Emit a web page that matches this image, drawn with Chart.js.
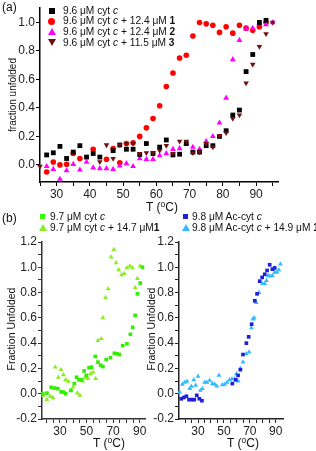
<!DOCTYPE html>
<html>
<head>
<meta charset="utf-8">
<script src="https://cdn.jsdelivr.net/npm/chart.js@4"></script>
<style>
  body { margin: 0; background: #fff; }
  #page { position: relative; width: 316px; height: 451px; overflow: hidden; }
  canvas { position: absolute; left: 0; top: 0; }
  .t { position: absolute; white-space: nowrap; font-family: 'Liberation Sans', Arial, sans-serif; color: #111; line-height: 12px; }
  .lg { font-size: 10.2px; }
  .mk { position: absolute; }
  .sq { width: 6px; height: 6px; }
  .ci { width: 7px; height: 7px; border-radius: 50%; }
  .up { width: 0; height: 0; border-left: 4px solid transparent; border-right: 4px solid transparent; border-bottom: 7px solid; }
  .dn { width: 0; height: 0; border-left: 4px solid transparent; border-right: 4px solid transparent; border-top: 7px solid; }
  .rot { transform: translate(-50%, -50%) rotate(-90deg); }
  .ctr { transform: translate(-50%, -50%); }
  sup { font-size: 0.7em; vertical-align: 0.5em; line-height: 0; }
</style>
</head>
<body>
<div id="page">
  <canvas id="chartA" width="316" height="451"></canvas>
  <canvas id="chartB1" width="316" height="451"></canvas>
  <canvas id="chartB2" width="316" height="451"></canvas>

  <!-- panel (a) texts -->
  <div class="t" style="left:2px;top:1px;font-size:12px">(a)</div>
  <div class="mk sq" style="left:49px;top:8px;background:#000"></div>
  <div class="t lg" style="left:63px;top:5px">9.6 μM cyt <i>c</i></div>
  <div class="mk ci" style="left:48px;top:18px;background:#ff0000"></div>
  <div class="t lg" style="left:63px;top:15px">9.6 μM cyt <i>c</i> + 12.4 μM <b>1</b></div>
  <div class="mk up" style="left:48px;top:28px;border-bottom-color:#ff00ff"></div>
  <div class="t lg" style="left:63px;top:26px">9.6 μM cyt <i>c</i> + 12.4 μM <b>2</b></div>
  <div class="mk dn" style="left:48px;top:39px;border-top-color:#701010"></div>
  <div class="t lg" style="left:63px;top:37px">9.6 μM cyt <i>c</i> + 11.5 μM <b>3</b></div>
  <div class="t rot" style="left:13px;top:95px;font-size:10px">fraction unfolded</div>
  <div class="t ctr" style="left:162px;top:207px;font-size:12px">T (<sup>o</sup>C)</div>

  <!-- panel (b) texts -->
  <div class="t" style="left:2px;top:212px;font-size:12px">(b)</div>
  <div class="mk sq" style="left:40px;top:214px;width:5px;height:5px;background:#33ff00"></div>
  <div class="t lg" style="left:50px;top:211px">9.7 μM cyt <i>c</i></div>
  <div class="mk up" style="left:39px;top:224px;border-bottom-color:#88ee22"></div>
  <div class="t lg" style="left:50px;top:222px">9.7 μM cyt <i>c</i> + 14.7 μM<b>1</b></div>
  <div class="mk sq" style="left:183px;top:214px;width:5px;height:5px;background:#1f1fdd"></div>
  <div class="t lg" style="left:192px;top:211px">9.8 μM Ac-cyt <i>c</i></div>
  <div class="mk up" style="left:182px;top:224px;border-bottom-color:#33bbff"></div>
  <div class="t lg" style="left:192px;top:222px">9.8 μM Ac-cyt <i>c</i> + 14.9 μM <b>1</b></div>
  <div class="t rot" style="left:11px;top:329px;font-size:10.5px">Fraction Unfolded</div>
  <div class="t rot" style="left:151px;top:329px;font-size:10.5px">Fraction Unfolded</div>
  <div class="t ctr" style="left:109px;top:443px;font-size:12px">T (<sup>o</sup>C)</div>
  <div class="t ctr" style="left:243px;top:443px;font-size:12px">T (<sup>o</sup>C)</div>
</div>

<script>
  // panel (a): 9.6 uM cyt c alone and with compounds 1, 2, 3
  const aTempCyt = [27, 29, 31, 33, 35, 37, 39, 41, 43, 47, 49, 51, 53, 55, 57, 59, 61, 63, 65, 67, 69, 71, 73, 75, 77, 79, 81, 83, 85, 87, 89, 91, 93];
  const aCyt = [0.07, 0.085, 0.13, 0.045, 0.09, 0.135, 0.055, 0.08, 0.055, 0.1, 0.14, 0.11, 0.11, 0.073, 0.15, 0.08, 0.125, 0.175, 0.07, 0.075, 0.15, 0.09, 0.09, 0.135, 0.135, 0.2, 0.24, 0.35, 0.385, 0.655, 0.775, 1.0, 1.015];

  const aTemp1 = [27, 29, 31, 33, 35, 37, 41, 45, 47, 49, 51, 53, 55, 57, 59, 61, 63, 65, 67, 69, 71, 73, 75, 77, 79, 81, 83, 85, 87, 89, 91, 93];
  const aCyt1 = [-0.05, 0.02, 0.0, 0.005, 0.08, 0.045, 0.11, 0.04, 0.115, 0.015, 0.15, 0.155, 0.2, 0.26, 0.325, 0.415, 0.55, 0.645, 0.75, 0.77, 0.905, 1.0, 0.99, 0.98, 0.93, 0.97, 0.925, 0.98, 0.96, 0.945, 0.97, 1.0];

  const aTemp2 = [27, 29, 31, 33, 35, 37, 39, 41, 43, 45, 47, 49, 51, 53, 55, 57, 59, 61, 63, 65, 67, 69, 71, 73, 75, 77, 79, 81, 83, 85, 87, 89, 91, 93, 95];
  const aCyt2 = [-0.01, -0.03, -0.1, -0.04, 0.005, -0.035, 0.02, -0.02, -0.025, -0.025, -0.03, -0.007, 0.01, -0.01, 0.045, 0.04, 0.04, 0.065, 0.08, 0.11, 0.115, 0.15, 0.125, 0.11, 0.165, 0.2, 0.295, 0.47, 0.74, 0.875, 0.955, 0.96, 0.995, 0.985, 1.0];

  const aTemp3 = [25, 43, 45, 47, 49, 51, 53, 55, 57, 59, 61, 63, 65, 67, 69, 71, 73, 75, 77, 79, 81, 83, 85, 87, 89, 91, 93, 95];
  const aCyt3 = [-0.01, 0.022, 0.14, 0.045, 0.14, 0.15, 0.15, 0.08, 0.085, 0.085, 0.1, 0.135, 0.08, 0.165, 0.165, 0.085, 0.09, 0.15, 0.125, 0.205, 0.225, 0.325, 0.35, 0.575, 0.705, 0.83, 0.92, 1.0];

  const aXTicks = [25, 30, 35, 40, 45, 50, 55, 60, 65, 70, 75, 80, 85, 90, 95];
  const aXLabels = [30, 40, 50, 60, 70, 80, 90];
  const aYTicks = [0, 0.2, 0.4, 0.6, 0.8, 1.0];
  const aYLabels = [0, 0.2, 0.4, 0.6, 0.8, 1.0];

  // panel (b) left: 9.7 uM cyt c, with and without 14.7 uM 1
  const bTempCyt = [17, 20.2, 23.4, 25.9, 28.4, 30.9, 32.6, 34.3, 38.3, 40.8, 42.5, 44.3, 46.2, 48.2, 49.9, 51.9, 53.7, 56.6, 58.6, 60.6, 62.3, 64.8, 68, 71, 73, 74.7, 77.2, 80.4, 83, 84.7, 86.6, 88.3, 90.4, 92.1];
  const bCyt = [0, 0.005, 0.05, 0.045, 0.04, 0.015, 0.013, 0, 0.026, 0.08, 0.13, 0.11, 0.11, 0.18, 0.145, 0.205, 0.21, 0.295, 0.25, 0.225, 0.215, 0.27, 0.285, 0.32, 0.315, 0.31, 0.38, 0.395, 0.47, 0.525, 0.62, 0.79, 0.875, 1.0];
  const bTempCyt1 = [17.7, 20.2, 22.7, 24.7, 26.4, 28.8, 30.8, 32.6, 34.3, 36.3, 38.1, 40, 43, 45, 47, 49, 51, 53, 55, 56.9, 58.6, 61.1, 62.3, 64.3, 66.3, 68.5, 70.5, 72.3, 74.2, 76.4, 78.4, 80.4, 82.6, 84.6, 86.6, 88.3, 90.3];
  const bCyt1 = [-0.013, -0.047, -0.02, -0.03, 0.21, 0.13, 0.19, 0.15, 0.11, 0.097, 0.026, 0.052, 0.005, -0.013, 0.1, 0.13, 0.12, 0.16, 0.17, 0.12, 0.42, 0.435, 0.6, 0.76, 0.83, 1.08, 1.14, 1.035, 0.98, 0.94, 0.95, 0.995, 1.01, 0.995, 0.84, 0.91, 1.01];

  // panel (b) right: 9.8 uM Ac-cyt c, with and without 14.9 uM 1
  const bTempAc = [17, 19, 21, 23, 25, 27, 29, 31, 33, 56.5, 59.1, 60.9, 62.7, 64.7, 67.3, 69.1, 71.4, 73.8, 75.6, 77.6, 79.5, 81.5, 83.3, 85.3, 87.4, 89.2];
  const bAc = [-0.04, -0.03, -0.02, -0.047, -0.047, -0.047, -0.013, -0.04, -0.055, 0.08, 0.11, 0.145, 0.19, 0.31, 0.4, 0.45, 0.55, 0.735, 0.79, 0.89, 0.92, 0.945, 0.975, 1.02, 0.985, 0.995];
  const bTempAc1 = [15.8, 17.9, 19.7, 21.5, 23.6, 24.9, 26.7, 28.2, 30, 31.8, 33.4, 35.1, 36.9, 39, 41.1, 42.9, 44.5, 46.2, 48.8, 50.6, 52.4, 54.4, 56.2, 58.3, 59.6, 60.9, 62.7, 64.7, 67.3, 69.4, 71.2, 72.4, 73.3, 75, 77.1, 79.7, 81.5, 82.8, 84.1, 85.5, 87.4, 89.2, 91, 92.4, 93.6];
  const bAc1 = [0.013, 0.074, 0.09, 0.097, 0.04, 0.058, 0.11, 0.066, 0.137, 0.026, 0.04, 0.09, 0.09, 0.105, 0.08, 0.074, 0.06, 0.145, 0.071, 0.074, 0.09, 0.11, 0.118, 0.118, 0.158, 0.1, 0.2, 0.25, 0.315, 0.33, 0.52, 0.59, 0.6, 0.72, 0.8, 0.87, 0.87, 0.895, 0.935, 0.93, 0.935, 0.96, 0.96, 0.98, 1.025];

  const bXTicks = [20, 25, 30, 35, 40, 45, 50, 55, 60, 65, 70, 75, 80, 85, 90];
  const bXLabels = [30, 50, 70, 90];
  const bYTicks = [-0.2, -0.1, 0, 0.1, 0.2, 0.3, 0.4, 0.5, 0.6, 0.7, 0.8, 0.9, 1.0, 1.1, 1.2];
  const bYLabels = [-0.2, 0, 0.2, 0.4, 0.6, 0.8, 1.0, 1.2];

  Chart.defaults.font.family = "'Liberation Sans', Arial, sans-serif";

  function points(xs, ys) {
    return xs.map((x, i) => ({ x: x, y: ys[i] }));
  }

  function series(xs, ys, color, style, radius, rotation) {
    return {
      data: points(xs, ys),
      backgroundColor: color,
      borderColor: color,
      borderWidth: 0,
      pointStyle: style,
      pointRadius: radius,
      pointRotation: rotation || 0,
      clip: false
    };
  }

  function axis(min, max, tickVals, labelVals, size, digits, lineColor) {
    return {
      type: 'linear',
      min: min,
      max: max,
      afterBuildTicks: s => { s.ticks = tickVals.map(v => ({ value: v })); },
      afterFit: s => { if (s.isHorizontal()) s.height = size; else s.width = size; },
      border: { display: true, color: lineColor, width: 1.5 },
      grid: { display: true, drawOnChartArea: false, drawTicks: true, tickLength: 4, color: lineColor, lineWidth: 1 },
      ticks: {
        autoSkip: false,
        maxRotation: 0,
        padding: 1,
        color: '#222',
        font: { size: 12 },
        callback: v => labelVals.some(l => Math.abs(l - v) < 1e-6) ? v.toFixed(digits) : ''
      }
    };
  }

  function makeChart(id, datasets, xAxis, yAxis, padding) {
    new Chart(document.getElementById(id), {
      type: 'scatter',
      data: { datasets: datasets },
      options: {
        responsive: false,
        animation: false,
        devicePixelRatio: 1,
        layout: { padding: padding, autoPadding: false },
        plugins: { legend: { display: false }, tooltip: { enabled: false } },
        scales: { x: xAxis, y: yAxis }
      }
    });
  }

  makeChart('chartA', [
    series(aTemp3, aCyt3, '#701010', 'triangle', 3.2, 180),
    series(aTempCyt, aCyt, '#000000', 'rect', 3.4),
    series(aTemp2, aCyt2, '#ff00ff', 'triangle', 3.4),
    series(aTemp1, aCyt1, '#ff0000', 'circle', 2.8)
  ], axis(25, 96.6, aXTicks, aXLabels, 30, 0, '#000'),
     axis(-0.12, 1.1, aYTicks, aYLabels, 40, 1, '#000'),
     { left: 0, top: 4, right: 38, bottom: 239 });

  makeChart('chartB1', [
    series(bTempCyt, bCyt, '#33ee00', 'rect', 2.6),
    series(bTempCyt1, bCyt1, '#88ee22', 'triangle', 2.8)
  ], axis(16.5, 94, bXTicks, bXLabels, 25, 0, '#333'),
     axis(-0.2, 1.2, bYTicks, bYLabels, 42, 1, '#333'),
     { left: 0, top: 242, right: 171, bottom: 7 });

  makeChart('chartB2', [
    series(bTempAc, bAc, '#1f1fdd', 'rect', 2.6),
    series(bTempAc1, bAc1, '#33bbff', 'triangle', 2.8)
  ], axis(15.3, 95.6, bXTicks, bXLabels, 25, 0, '#222'),
     axis(-0.2, 1.2, bYTicks, bYLabels, 30, 1, '#222'),
     { left: 149, top: 242, right: 33, bottom: 7 });
</script>
</body>
</html>
